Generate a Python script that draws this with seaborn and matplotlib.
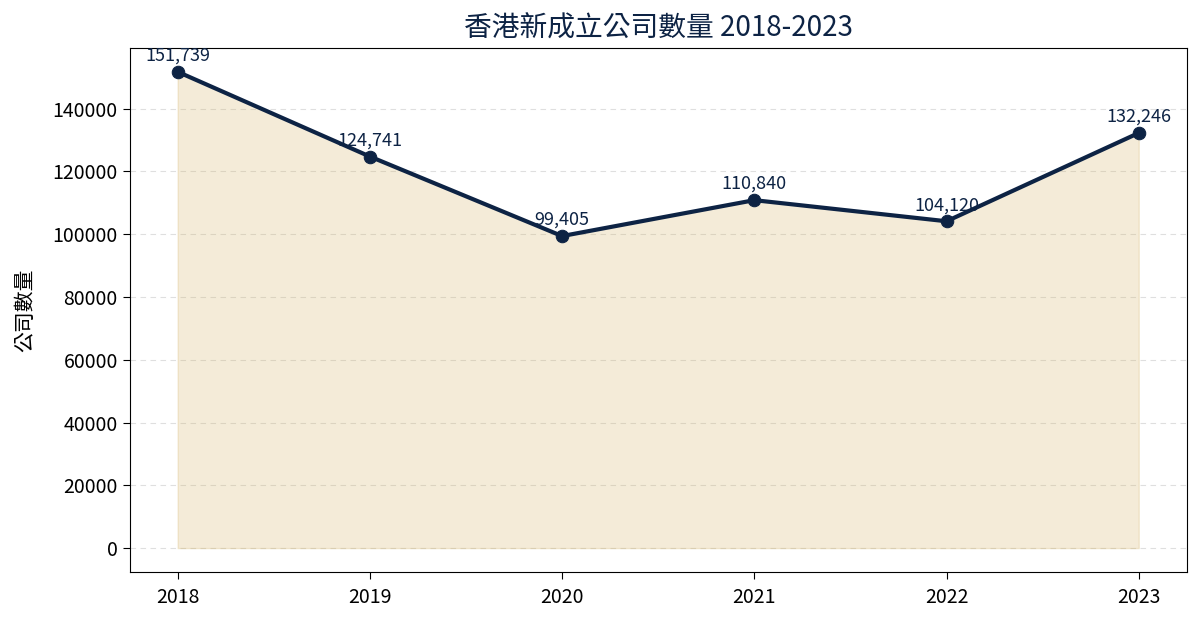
import seaborn as sns
import matplotlib.pyplot as plt
import pandas as pd

years = [2018, 2019, 2020, 2021, 2022, 2023]
counts = [151739, 124741, 99405, 110840, 104120, 132246]

df = pd.DataFrame({"year": years, "count": counts})

sns.set_style("white")
plt.rcParams['font.family'] = ['Noto Sans CJK TC', 'DejaVu Sans']

navy = "#0d2344"
gold = "#d4b366"

fig, ax = plt.subplots(figsize=(12, 6.23), dpi=100)

ax.fill_between(df["year"], df["count"], color=gold, alpha=0.25)
sns.lineplot(data=df, x="year", y="count", ax=ax, color=navy, linewidth=3,
             marker="o", markersize=9, markeredgecolor=navy)

for x, y in zip(df["year"], df["count"]):
    ax.annotate(f"{y:,}", (x, y), textcoords="offset points", xytext=(0, 8),
                ha="center", fontsize=13, color=navy)

ax.set_xticks(years)
ax.set_title("香港新成立公司數量 2018-2023", fontsize=20, color=navy, pad=8)
ax.set_xlabel("")
ax.set_ylabel("公司數量", fontsize=15, color="black", labelpad=12)
ax.tick_params(axis="both", labelsize=14, length=5, left=True, bottom=True,
               colors="black")
ax.tick_params(axis="x", pad=6)
ax.yaxis.grid(True, linestyle=(0, (5, 4)), color="#d8d8d8", alpha=0.8)
ax.set_axisbelow(True)
for s in ax.spines.values():
    s.set_color("black")

plt.subplots_adjust(left=0.108, right=0.989, top=0.923, bottom=0.082)
plt.savefig("out.png")
